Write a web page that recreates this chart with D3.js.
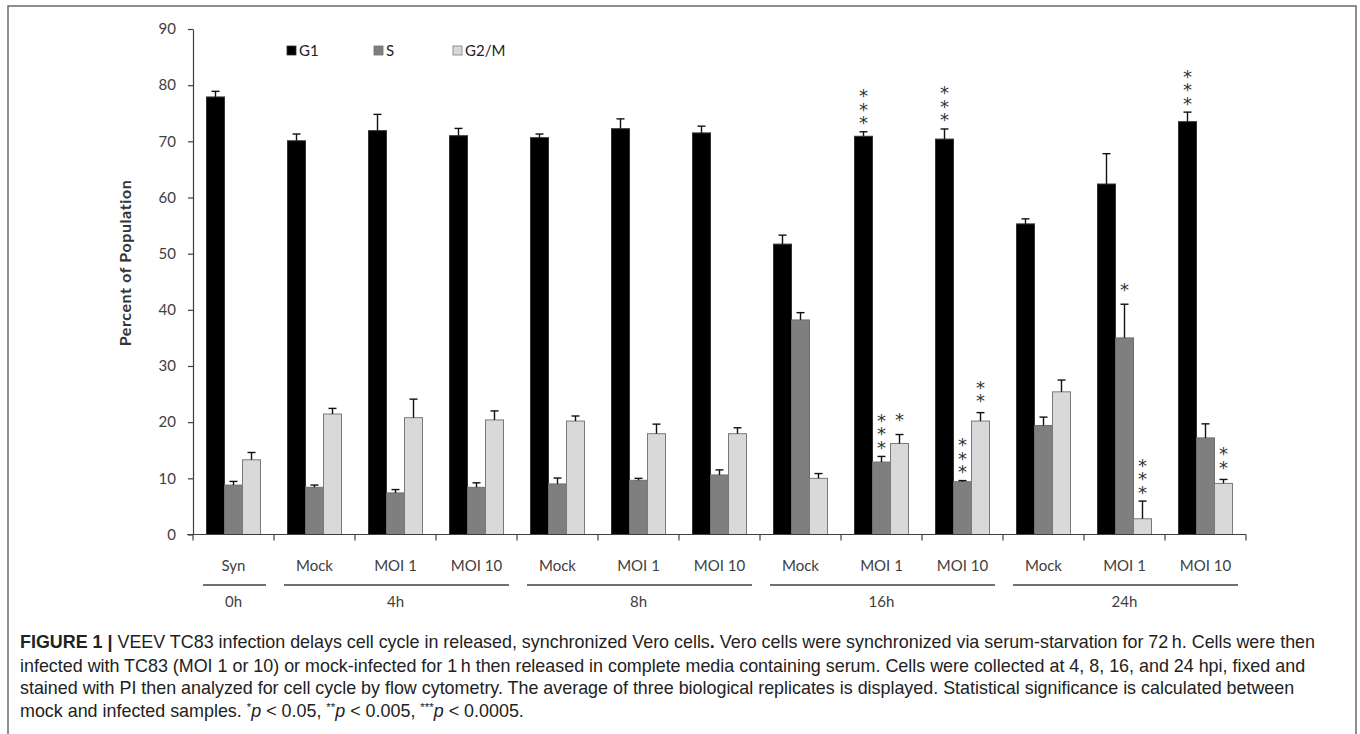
<!DOCTYPE html>
<html>
<head>
<meta charset="utf-8">
<script src="https://cdn.jsdelivr.net/npm/d3@7"></script>
<style>
  html, body { margin: 0; padding: 0; background: #fff; }
  svg { display: block; }
  .stars { writing-mode: vertical-rl; text-orientation: upright; }
</style>
</head>
<body>
<svg id="chart" width="1360" height="734"></svg>
<script>
// ---------------- data ----------------
const categories = ["Syn","Mock","MOI 1","MOI 10","Mock","MOI 1","MOI 10","Mock","MOI 1","MOI 10","Mock","MOI 1","MOI 10"];
const groupLabels = ["0h","4h","8h","16h","24h"];
const groupSizes  = [1, 3, 3, 3, 3];
const seriesNames = ["G1","S","G2/M"];

const g1Values   = [77.9, 70.1, 71.9, 71.0, 70.65, 72.25, 71.5, 51.7, 70.9, 70.4, 55.3, 62.4, 73.5];
const g1Errors   = [1.0, 1.2, 2.9, 1.3, 0.65, 1.75, 1.2, 1.6, 0.8, 1.8, 0.9, 5.4, 1.7];
const sValues    = [8.8, 8.4, 7.4, 8.4, 9.0, 9.65, 10.6, 38.2, 12.9, 9.4, 19.4, 35.0, 17.2];
const sErrors    = [0.65, 0.4, 0.6, 0.8, 1.05, 0.35, 0.9, 1.3, 1.0, 0.2, 1.5, 6.0, 2.5];
const g2mValues  = [13.3, 21.45, 20.8, 20.4, 20.2, 17.95, 17.95, 10.0, 16.2, 20.2, 25.4, 2.8, 9.1];
const g2mErrors  = [1.3, 1.0, 3.3, 1.6, 0.9, 1.7, 1.05, 0.85, 1.6, 1.5, 2.1, 3.15, 0.7];

const yTicks = [0,10,20,30,40,50,60,70,80,90];

// significance marks: category index, series, stars
const sigCategory = [8, 8, 8, 9, 9, 9, 11, 11, 12, 12];
const sigSeries   = ["G1","S","G2/M","G1","S","G2/M","S","G2/M","G1","G2/M"];
const sigStars    = ["***","***","*","***","***","**","*","***","***","**"];

const captionLines = [
  [{t:"FIGURE 1 | ", b:true},{t:"VEEV TC83 infection delays cell cycle in released, synchronized Vero cells"},{t:".", b:true},{t:" Vero cells were synchronized via serum-starvation for 72\u2009h. Cells were then"}],
  [{t:"infected with TC83 (MOI 1 or 10) or mock-infected for 1\u2009h then released in complete media containing serum. Cells were collected at 4, 8, 16, and 24 hpi, fixed and"}],
  [{t:"stained with PI then analyzed for cell cycle by flow cytometry. The average of three biological replicates is displayed. Statistical significance is calculated between"}],
  [{t:"mock and infected samples. "},{t:"*", sup:true},{t:"p", i:true},{t:" < 0.05, "},{t:"**", sup:true},{t:"p", i:true},{t:" < 0.005, "},{t:"***", sup:true},{t:"p", i:true},{t:" < 0.0005."}]
];

// ---------------- layout ----------------
const colors = {"G1":"#000000","S":"#7f7f7f","G2/M":"#d9d9d9"};
const strokes = {"G1":"#333333","S":"#6f6f6f","G2/M":"#7a7a7a"};
const values = {"G1":g1Values,"S":sValues,"G2/M":g2mValues};
const errors = {"G1":g1Errors,"S":sErrors,"G2/M":g2mErrors};
const chartFont = "Lato, 'Open Sans', sans-serif";
const textColor = "#404040";

const svg = d3.select("#chart");

// outer border
svg.append("rect").attr("x",8).attr("y",6).attr("width",1348).attr("height",740)
  .attr("fill","none").attr("stroke","#6a6a6a").attr("stroke-width",1.5);

const x = d3.scaleBand().domain(d3.range(categories.length)).range([193,1246]);
const xs = d3.scaleBand().domain(seriesNames).range([0, x.bandwidth()]).paddingInner(0).paddingOuter(0.75);
const y = d3.scaleLinear().domain([0,90]).range([534.5, 29]);

// y axis
const yAxis = d3.axisLeft(y).tickValues(yTicks).tickSize(5).tickPadding(12).tickSizeOuter(0);
const gy = svg.append("g").attr("transform","translate(193,0)").call(yAxis);
gy.select(".domain").attr("stroke","#404040").attr("stroke-width",1.2);
gy.selectAll(".tick line").attr("stroke","#404040").attr("stroke-width",1.2);
gy.selectAll(".tick text").attr("font-family",chartFont).attr("font-size",15).attr("fill",textColor);

// y title
svg.append("text").attr("transform","translate(131,263) rotate(-90)")
  .attr("text-anchor","middle").attr("font-family",chartFont).attr("font-weight","bold")
  .attr("font-size",16).attr("letter-spacing",0.6).attr("fill","#333").text("Percent of Population");

// bars
const rows = [];
categories.forEach((c,i) => seriesNames.forEach(s => rows.push({i, s, v: values[s][i], e: errors[s][i]})));

svg.append("g").selectAll("rect").data(rows).join("rect")
  .attr("x", d => x(d.i) + xs(d.s))
  .attr("y", d => y(d.v))
  .attr("width", xs.bandwidth())
  .attr("height", d => y(0) - y(d.v))
  .attr("fill", d => colors[d.s])
  .attr("stroke", d => strokes[d.s]).attr("stroke-width", 1);

// error bars (upper)
const eg = svg.append("g").attr("stroke","#111").attr("stroke-width",1.4);
eg.selectAll("line.v").data(rows).join("line").attr("class","v")
  .attr("x1", d => x(d.i) + xs(d.s) + xs.bandwidth()/2)
  .attr("x2", d => x(d.i) + xs(d.s) + xs.bandwidth()/2)
  .attr("y1", d => y(d.v)).attr("y2", d => y(d.v + d.e));
eg.selectAll("line.c").data(rows).join("line").attr("class","c")
  .attr("x1", d => x(d.i) + xs(d.s) + xs.bandwidth()/2 - 4)
  .attr("x2", d => x(d.i) + xs(d.s) + xs.bandwidth()/2 + 4)
  .attr("y1", d => y(d.v + d.e)).attr("y2", d => y(d.v + d.e));

// significance stars: one vertical text per mark
const sigData = sigCategory.map((ci,k) => {
  const s = sigSeries[k];
  return {cx: x(ci) + xs(s) + xs.bandwidth()/2, top: y(values[s][ci] + errors[s][ci]), stars: sigStars[k]};
});
const starStep = 10.5, starSize = 18;
svg.append("g").selectAll("text").data(sigData).join("text")
  .attr("class","stars")
  .attr("font-family","'DejaVu Sans', sans-serif")
  .attr("font-size",starSize).attr("fill","#333")
  .attr("letter-spacing", starStep - starSize)
  .attr("x", d => d.cx)
  .attr("y", d => d.top - 15 - d.stars.length * starStep)
  .text(d => d.stars);

// x axis
const xAxisLine = svg.append("g");
xAxisLine.append("line").attr("x1",187).attr("x2",1246).attr("y1",y(0)).attr("y2",y(0))
  .attr("stroke","#404040").attr("stroke-width",1.2);
const bounds = d3.range(categories.length + 1).map(i => i < categories.length ? x(i) : x.range()[1]);
xAxisLine.selectAll("line.t").data(bounds).join("line").attr("class","t")
  .attr("x1", d => d).attr("x2", d => d).attr("y1", y(0)).attr("y2", y(0) + 6)
  .attr("stroke","#404040").attr("stroke-width",1.2);

// category labels
svg.append("g").selectAll("text").data(categories).join("text")
  .attr("x", (d,i) => x(i) + x.bandwidth()/2).attr("y", 571)
  .attr("text-anchor","middle").attr("font-family",chartFont).attr("font-size",15)
  .attr("fill",textColor).text(d => d);

// group underline + labels
let start = 0;
const groups = groupLabels.map((g,k) => { const o = {label:g, a:start, b:start + groupSizes[k] - 1}; start += groupSizes[k]; return o; });
const gg = svg.append("g");
gg.selectAll("line").data(groups).join("line")
  .attr("x1", d => x(d.a) + 10).attr("x2", d => x(d.b) + x.bandwidth() - 8)
  .attr("y1", 585).attr("y2", 585).attr("stroke","#404040").attr("stroke-width",1.3);
gg.selectAll("text").data(groups).join("text")
  .attr("x", d => (x(d.a) + x(d.b) + x.bandwidth())/2).attr("y", 607)
  .attr("text-anchor","middle").attr("font-family",chartFont).attr("font-size",15)
  .attr("fill",textColor).text(d => d.label);

// legend
const legendX = [287, 374, 453];
const lg = svg.append("g").selectAll("g").data(seriesNames).join("g")
  .attr("transform", (d,i) => `translate(${legendX[i]},46)`);
lg.append("rect").attr("width",9).attr("height",9).attr("fill", d => colors[d])
  .attr("stroke", d => strokes[d]).attr("stroke-width",0.8);
lg.append("text").attr("x",12).attr("y",10).attr("font-family",chartFont).attr("font-size",15)
  .attr("fill","#222").text(d => d);

// caption
const capFont = "'Liberation Sans Narrow', 'Liberation Sans', sans-serif";
const capY = [648, 672, 694, 717];
captionLines.forEach((line, li) => {
  const t = svg.append("text").attr("x",20).attr("y",capY[li]).attr("font-family",capFont)
    .attr("font-size",17.9).attr("fill","#222");
  line.forEach((seg, k) => {
    const ts = t.append("tspan").text(seg.t);
    if (seg.b) ts.attr("font-weight","bold");
    if (seg.i) ts.attr("font-style","italic");
    if (seg.sup) ts.attr("font-size",11.5).attr("dy",-6);
    else if (k > 0 && line[k-1].sup) ts.attr("dy",6);
  });
});
</script>
</body>
</html>
